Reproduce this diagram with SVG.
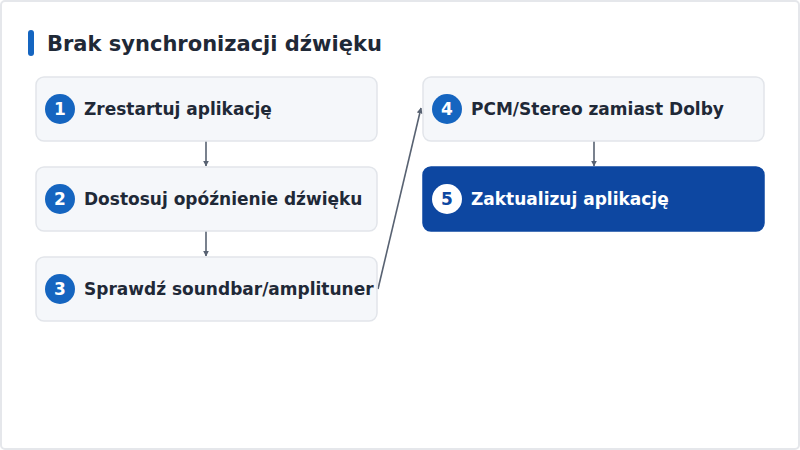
<svg xmlns="http://www.w3.org/2000/svg" width="800" height="450" viewBox="0 0 800 450">
<style>
.frame{fill:#ffffff;stroke:#e5e7eb;stroke-width:2}
.box{fill:#f5f7fa;stroke:#e2e5ea;stroke-width:1.5}
.boxa{fill:#0d47a1;stroke:#0d47a1;stroke-width:1.5}
.num{fill:#1565c0}
.numa{fill:#ffffff}
.numt{font-family:"DejaVu Sans",sans-serif;font-weight:bold;font-size:17px;fill:#ffffff;text-anchor:middle}
.numta{font-family:"DejaVu Sans",sans-serif;font-weight:bold;font-size:17px;fill:#0d47a1;text-anchor:middle}
.lbl{font-family:"DejaVu Sans",sans-serif;font-weight:bold;font-size:17px;fill:#1f2937}
.lbla{font-family:"DejaVu Sans",sans-serif;font-weight:bold;font-size:17px;fill:#ffffff}
.title{font-family:"DejaVu Sans",sans-serif;font-weight:bold;font-size:21px;fill:#1f2937}
.conn{stroke:#586272;stroke-width:1.6;fill:none;marker-end:url(#ah)}
</style>
<defs>
<marker id="ah" viewBox="0 0 10 10" refX="9" refY="5" markerWidth="6" markerHeight="6" orient="auto" markerUnits="userSpaceOnUse">
<path d="M0,0 L10,5 L0,10 z" fill="#586272"/>
</marker>
</defs>
<rect class="frame" x="1" y="1" width="798" height="448" rx="4"/>
<g id="title">
<rect x="28" y="30" width="6" height="26" rx="3" fill="#1565c0"/>
<text class="title" x="47" y="51">Brak synchronizacji dźwięku</text>
</g>
<g id="connectors">
<line class="conn" x1="206" y1="141" x2="206" y2="166"/>
<line class="conn" x1="206" y1="231" x2="206" y2="256"/>
<line class="conn" x1="378" y1="289" x2="421" y2="108"/>
<line class="conn" x1="594" y1="141" x2="594" y2="166"/>
</g>
<g id="n1">
<rect class="box" x="36" y="77" width="341" height="64" rx="8"/>
<circle class="num" cx="60" cy="109" r="15"/>
<text class="numt" x="60" y="115">1</text>
<text class="lbl" x="84" y="115">Zrestartuj aplikację</text>
</g>
<g id="n2">
<rect class="box" x="36" y="167" width="341" height="64" rx="8"/>
<circle class="num" cx="60" cy="199" r="15"/>
<text class="numt" x="60" y="205">2</text>
<text class="lbl" x="84" y="205">Dostosuj opóźnienie dźwięku</text>
</g>
<g id="n3">
<rect class="box" x="36" y="257" width="341" height="64" rx="8"/>
<circle class="num" cx="60" cy="289" r="15"/>
<text class="numt" x="60" y="295">3</text>
<text class="lbl" x="84" y="295">Sprawdź soundbar/amplituner</text>
</g>
<g id="n4">
<rect class="box" x="423" y="77" width="341" height="64" rx="8"/>
<circle class="num" cx="447" cy="109" r="15"/>
<text class="numt" x="447" y="115">4</text>
<text class="lbl" x="471" y="115">PCM/Stereo zamiast Dolby</text>
</g>
<g id="n5">
<rect class="boxa" x="423" y="167" width="341" height="64" rx="8"/>
<circle class="numa" cx="447" cy="199" r="15"/>
<text class="numta" x="447" y="205">5</text>
<text class="lbla" x="471" y="205">Zaktualizuj aplikację</text>
</g>
</svg>
